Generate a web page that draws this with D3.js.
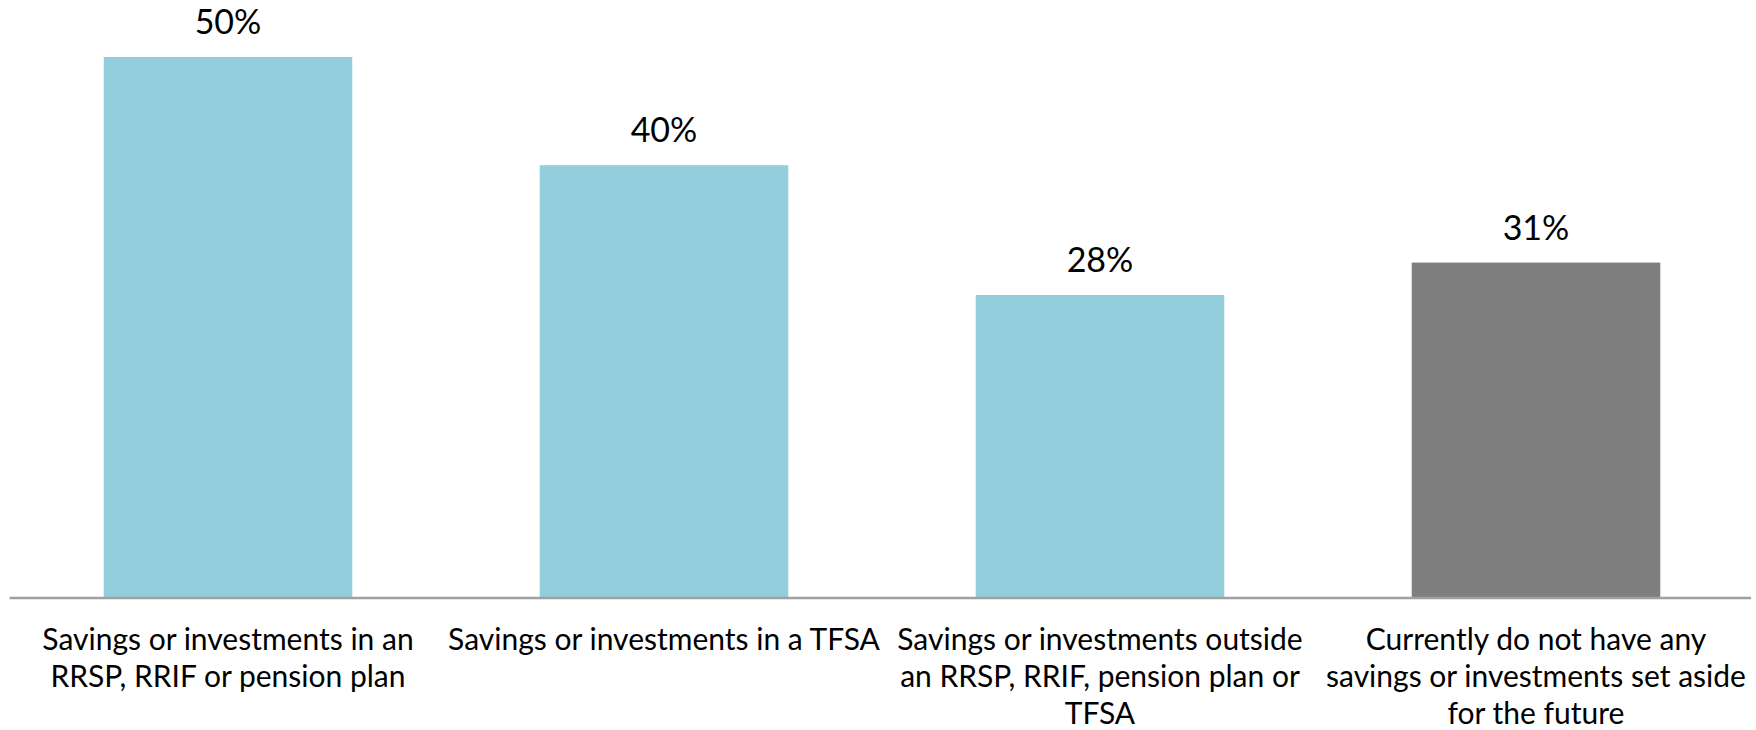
<!DOCTYPE html>
<html>
  <head>
    <meta charset="UTF-8">
    <title>Savings and investments</title>
    <script src="https://d3js.org/d3.v7.min.js"></script>
    <style>
      body { margin: 0; background: #fff; }
      svg text { font-family: Lato, "Open Sans", sans-serif; fill: #000; }
    </style>
  </head>

  <body>
    <div class="chart"></div>

    <script type="application/javascript">
      const categories = [
        "Savings or investments in an\nRRSP, RRIF or pension plan",
        "Savings or investments in a TFSA",
        "Savings or investments outside\nan RRSP, RRIF, pension plan or\nTFSA",
        "Currently do not have any\nsavings or investments set aside\nfor the future"
      ];
      const values = [50, 40, 28, 31];
      const colors = ["#92cddc", "#92cddc", "#92cddc", "#7f7f7f"];

      const width = 1756, height = 730;
      const baseY = 598;

      const svg = d3.select(".chart").append("svg")
        .attr("width", width)
        .attr("height", height);

      const x = d3.scaleBand()
        .domain(d3.range(categories.length))
        .range([10, 1754])
        .paddingInner(0.43)
        .paddingOuter(0.215);

      const y = d3.scaleLinear()
        .domain([0, 50])
        .range([baseY, 57]);

      svg.selectAll("rect.bar")
        .data(values)
        .join("rect")
        .attr("class", "bar")
        .attr("x", (d, i) => x(i))
        .attr("y", d => y(d))
        .attr("width", x.bandwidth())
        .attr("height", d => baseY - y(d))
        .attr("fill", (d, i) => colors[i]);

      // value labels
      svg.selectAll("text.val")
        .data(values)
        .join("text")
        .attr("class", "val")
        .attr("x", (d, i) => x(i) + x.bandwidth() / 2)
        .attr("y", d => y(d) - 23)
        .attr("text-anchor", "middle")
        .style("font-size", "34px")
        .text(d => d + "%");

      // baseline
      svg.append("line")
        .attr("x1", 9.5).attr("x2", 1751)
        .attr("y1", baseY).attr("y2", baseY)
        .attr("stroke", "#a0a0a0")
        .attr("stroke-width", 2.5);

      // category labels
      const cat = svg.selectAll("text.cat")
        .data(categories)
        .join("text")
        .attr("class", "cat")
        .attr("text-anchor", "middle")
        .style("font-size", "30px");

      cat.each(function(d, i) {
        const t = d3.select(this);
        d.split("\n").forEach((line, j) => {
          t.append("tspan")
            .attr("x", x(i) + x.bandwidth() / 2)
            .attr("y", 650 + j * 37)
            .text(line);
        });
      });
    </script>
  </body>

</html>
